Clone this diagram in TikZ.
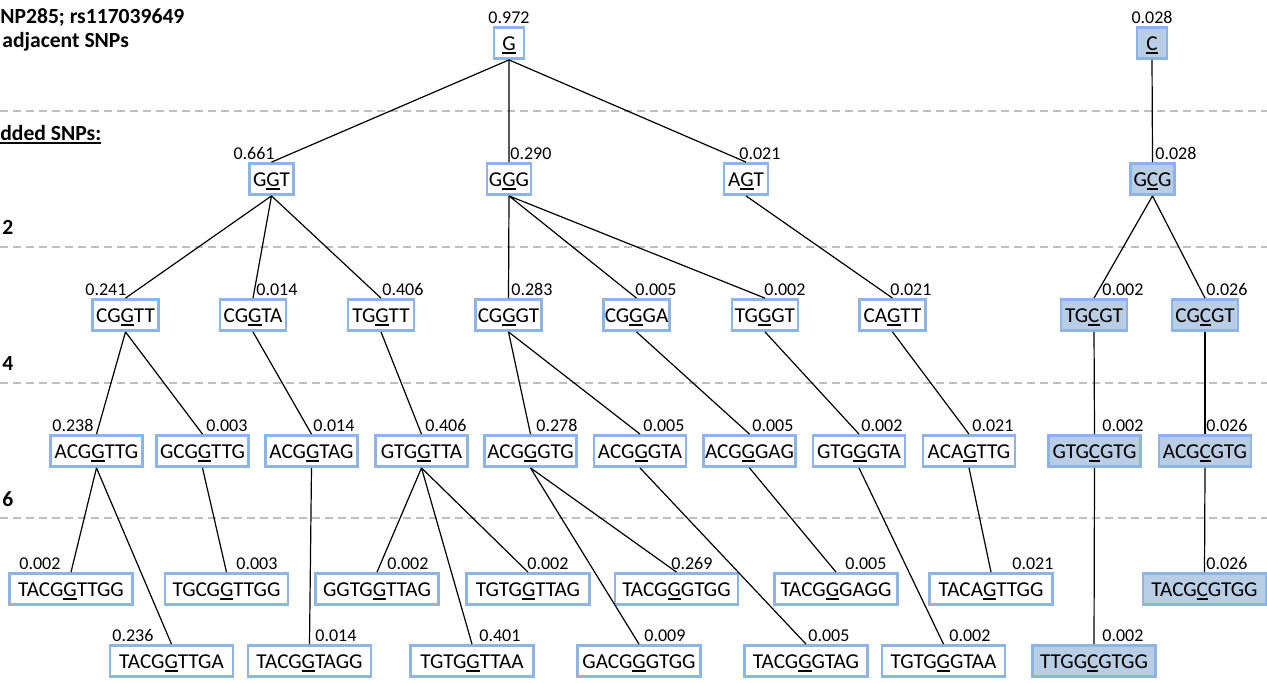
\documentclass[tikz,border=0pt]{standalone}
\usepackage{fontspec}
\setmainfont{Carlito}
\definecolor{boxline}{RGB}{141,180,227}
\definecolor{boxfill}{RGB}{185,205,229}
\definecolor{sepgray}{RGB}{191,191,191}
\newlength{\snpwd}
\newcommand{\snp}[1]{\settowidth{\snpwd}{#1}\rlap{\rule[-1.9pt]{\snpwd}{0.8pt}}#1}
\begin{document}
\begin{tikzpicture}
    [x=0.5pt, y=-0.5pt,
    seq/.style={draw=boxline, line width=1.4pt, fill=white, inner xsep=0.5pt, inner ysep=0pt,
      minimum height=15.5pt, text height=7pt, text depth=0pt, font=\fontsize{10.6}{12}\selectfont},
    cseq/.style={seq, fill=boxfill},
    w1/.style={minimum width=15pt},
    w3/.style={minimum width=22pt},
    w5/.style={minimum width=33pt},
    w7/.style={minimum width=46pt},
    w9/.style={minimum width=61.5pt},
    num/.style={inner sep=0pt, anchor=south west, yshift=1pt, font=\fontsize{9}{10}\selectfont},
    conn/.style={line width=0.6pt},
    rowline/.style={draw=sepgray, line width=1pt, dash pattern=on 4pt off 2.5pt},
    lefttext/.style={inner sep=0pt, anchor=base west, font=\fontsize{10.8}{13}\selectfont\bfseries}]
    \useasboundingbox (0,0) rectangle (1267,682);

    \draw[rowline] (0,111) -- (1267,111);
    \draw[rowline] (0,247) -- (1267,247);
    \draw[rowline] (0,383) -- (1267,383);
    \draw[rowline] (0,518) -- (1267,518);

    \node[lefttext] (title) at (0,23) {NP285; rs117039649};
    \node[lefttext] (adjacent) at (2,47) {adjacent SNPs};
    \node[lefttext] (added) at (0,140) {\snp{dded SNPs:}};
    \node[lefttext] (two) at (2,234) {2};
    \node[lefttext] (four) at (2,370) {4};
    \node[lefttext] (six) at (2,506) {6};

    % haplotype 0
    \node[seq, w1] (g) at (509,43) {\snp{G}};
    \node[cseq, w1] (c) at (1152,43) {\snp{C}};
    \node[num, anchor=south] (p-g) at (g.north) {0.972};
    \node[num, anchor=south] (p-c) at (c.north) {0.028};

    % 1 SNP each side
    \node[seq, w3] (ggt) at (271.5,179) {G\snp{G}T};
    \node[seq, w3] (ggg) at (509,179) {G\snp{G}G};
    \node[seq, w3] (agt) at (746,179) {A\snp{G}T};
    \node[cseq, w3] (gcg) at (1152.5,179) {G\snp{C}G};
    \node[num, anchor=south east] (p-ggt) at (275,0 |- ggt.north) {0.661};
    \node[num] (p-ggg) at (510,0 |- ggg.north) {0.290};
    \node[num] (p-agt) at (739,0 |- agt.north) {0.021};
    \node[num] (p-gcg) at (1155,0 |- gcg.north) {0.028};

    % 2 SNPs each side
    \node[seq, w5] (cggtt) at (125.5,315) {CG\snp{G}TT};
    \node[seq, w5] (cggta) at (253,315) {CG\snp{G}TA};
    \node[seq, w5] (tggtt) at (381,315) {TG\snp{G}TT};
    \node[seq, w5] (cgggt) at (508.5,315) {CG\snp{G}GT};
    \node[seq, w5] (cggga) at (636.5,315) {CG\snp{G}GA};
    \node[seq, w5] (tgggt) at (765,315) {TG\snp{G}GT};
    \node[seq, w5] (cagtt) at (892.5,315) {CA\snp{G}TT};
    \node[cseq, w5] (tgcgt) at (1094,315) {TG\snp{C}GT};
    \node[cseq, w5] (cgcgt) at (1205,315) {CG\snp{C}GT};
    \node[num] (p-cggtt) at (85,0 |- cggtt.north) {0.241};
    \node[num] (p-cggta) at (256,0 |- cggta.north) {0.014};
    \node[num] (p-tggtt) at (382,0 |- tggtt.north) {0.406};
    \node[num] (p-cgggt) at (511,0 |- cgggt.north) {0.283};
    \node[num] (p-cggga) at (635,0 |- cggga.north) {0.005};
    \node[num] (p-tgggt) at (764,0 |- tgggt.north) {0.002};
    \node[num] (p-cagtt) at (890,0 |- cagtt.north) {0.021};
    \node[num] (p-tgcgt) at (1102,0 |- tgcgt.north) {0.002};
    \node[num] (p-cgcgt) at (1206,0 |- cgcgt.north) {0.026};

    % 3 SNPs each side
    \node[seq, w7] (acggttg) at (96.5,451) {ACG\snp{G}TTG};
    \node[seq, w7] (gcggttg) at (202.5,451) {GCG\snp{G}TTG};
    \node[seq, w7] (acggtag) at (311.5,451) {ACG\snp{G}TAG};
    \node[seq, w7] (gtggtta) at (421.5,451) {GTG\snp{G}TTA};
    \node[seq, w7] (acgggtg) at (530.5,451) {ACG\snp{G}GTG};
    \node[seq, w7] (acgggta) at (640,451) {ACG\snp{G}GTA};
    \node[seq, w7] (acgggag) at (749.5,451) {ACG\snp{G}GAG};
    \node[seq, w7] (gtgggta) at (859,451) {GTG\snp{G}GTA};
    \node[seq, w7] (acagttg) at (969,451) {ACA\snp{G}TTG};
    \node[cseq, w7] (gtgcgtg) at (1094.5,451) {GTG\snp{C}GTG};
    \node[cseq, w7] (acgcgtg) at (1205,451) {ACG\snp{C}GTG};
    \node[num] (p-acggttg) at (52,0 |- acggttg.north) {0.238};
    \node[num] (p-gcggttg) at (206,0 |- gcggttg.north) {0.003};
    \node[num] (p-acggtag) at (313,0 |- acggtag.north) {0.014};
    \node[num] (p-gtggtta) at (425,0 |- gtggtta.north) {0.406};
    \node[num] (p-acgggtg) at (536,0 |- acgggtg.north) {0.278};
    \node[num] (p-acgggta) at (643,0 |- acgggta.north) {0.005};
    \node[num] (p-acgggag) at (752,0 |- acgggag.north) {0.005};
    \node[num] (p-gtgggta) at (861,0 |- gtgggta.north) {0.002};
    \node[num] (p-acagttg) at (972,0 |- acagttg.north) {0.021};
    \node[num] (p-gtgcgtg) at (1102,0 |- gtgcgtg.north) {0.002};
    \node[num] (p-acgcgtg) at (1206,0 |- acgcgtg.north) {0.026};

    % 4 SNPs each side
    \node[seq, w9] (tacggttgg) at (71,589) {TACG\snp{G}TTGG};
    \node[seq, w9] (tgcggttgg) at (226.5,589) {TGCG\snp{G}TTGG};
    \node[seq, w9] (ggtggttag) at (377,589) {GGTG\snp{G}TTAG};
    \node[seq, w9] (tgtggttag) at (528,589) {TGTG\snp{G}TTAG};
    \node[seq, w9] (tacgggtgg) at (676.5,589) {TACG\snp{G}GTGG};
    \node[seq, w9] (tacgggagg) at (836,589) {TACG\snp{G}GAGG};
    \node[seq, w9] (tacagttgg) at (991,589) {TACA\snp{G}TTGG};
    \node[cseq, w9] (tacgcgtgg) at (1204.5,589) {TACG\snp{C}GTGG};
    \node[num] (p-tacggttgg) at (19,0 |- tacggttgg.north) {0.002};
    \node[num] (p-tgcggttgg) at (236,0 |- tgcggttgg.north) {0.003};
    \node[num] (p-ggtggttag) at (387,0 |- ggtggttag.north) {0.002};
    \node[num] (p-tgtggttag) at (527,0 |- tgtggttag.north) {0.002};
    \node[num] (p-tacgggtgg) at (671,0 |- tacgggtgg.north) {0.269};
    \node[num] (p-tacgggagg) at (845,0 |- tacgggagg.north) {0.005};
    \node[num] (p-tacagttgg) at (1012,0 |- tacagttgg.north) {0.021};
    \node[num] (p-tacgcgtgg) at (1206,0 |- tacgcgtgg.north) {0.026};

    \node[seq, w9] (tacggttga) at (171.5,661) {TACG\snp{G}TTGA};
    \node[seq, w9] (tacggtagg) at (309.5,661) {TACG\snp{G}TAGG};
    \node[seq, w9] (tgtggttaa) at (472,661) {TGTG\snp{G}TTAA};
    \node[seq, w9] (gacgggtgg) at (639,661) {GACG\snp{G}GTGG};
    \node[seq, w9] (tacgggtag) at (806,661) {TACG\snp{G}GTAG};
    \node[seq, w9] (tgtgggtaa) at (943.5,661) {TGTG\snp{G}GTAA};
    \node[cseq, w9] (ttggcgtgg) at (1094,661) {TTGG\snp{C}GTGG};
    \node[num] (p-tacggttga) at (112,0 |- tacggttga.north) {0.236};
    \node[num] (p-tacggtagg) at (315,0 |- tacggtagg.north) {0.014};
    \node[num] (p-tgtggttaa) at (479,0 |- tgtggttaa.north) {0.401};
    \node[num] (p-gacgggtgg) at (644,0 |- gacgggtgg.north) {0.009};
    \node[num] (p-tacgggtag) at (808,0 |- tacgggtag.north) {0.005};
    \node[num] (p-tgtgggtaa) at (949,0 |- tgtgggtaa.north) {0.002};
    \node[num] (p-ttggcgtgg) at (1102,0 |- ttggcgtgg.north) {0.002};

    \draw[conn] (g.south) -- (ggt.north) (g.south) -- (ggg.north) (g.south) -- (agt.north);
    \draw[conn] (c.south) -- (gcg.north);
    \draw[conn] (ggt.south) -- (cggtt.north) (ggt.south) -- (cggta.north) (ggt.south) -- (tggtt.north);
    \draw[conn] (ggg.south) -- (cgggt.north) (ggg.south) -- (cggga.north) (ggg.south) -- (tgggt.north);
    \draw[conn] (agt.south) -- (cagtt.north);
    \draw[conn] (gcg.south) -- (tgcgt.north) (gcg.south) -- (cgcgt.north);
    \draw[conn] (cggtt.south) -- (acggttg.north) (cggtt.south) -- (gcggttg.north);
    \draw[conn] (cggta.south) -- (acggtag.north);
    \draw[conn] (tggtt.south) -- (gtggtta.north);
    \draw[conn] (cgggt.south) -- (acgggtg.north) (cgggt.south) -- (acgggta.north);
    \draw[conn] (cggga.south) -- (acgggag.north);
    \draw[conn] (tgggt.south) -- (gtgggta.north);
    \draw[conn] (cagtt.south) -- (acagttg.north);
    \draw[conn] (tgcgt.south) -- (gtgcgtg.north);
    \draw[conn] (cgcgt.south) -- (acgcgtg.north);
    \draw[conn] (acggttg.south) -- (tacggttgg.north) (acggttg.south) -- (tacggttga.north);
    \draw[conn] (gcggttg.south) -- (tgcggttgg.north);
    \draw[conn] (acggtag.south) -- (tacggtagg.north);
    \draw[conn] (gtggtta.south) -- (ggtggttag.north) (gtggtta.south) -- (tgtggttaa.north)
      (gtggtta.south) -- (tgtggttag.north);
    \draw[conn] (acgggtg.south) -- (tacgggtgg.north) (acgggtg.south) -- (gacgggtgg.north);
    \draw[conn] (acgggta.south) -- (tacgggtag.north);
    \draw[conn] (acgggag.south) -- (tacgggagg.north);
    \draw[conn] (gtgggta.south) -- (tgtgggtaa.north);
    \draw[conn] (acagttg.south) -- (tacagttgg.north);
    \draw[conn] (gtgcgtg.south) -- (ttggcgtgg.north);
    \draw[conn] (acgcgtg.south) -- (tacgcgtgg.north);
  \end{tikzpicture}
\end{document}
